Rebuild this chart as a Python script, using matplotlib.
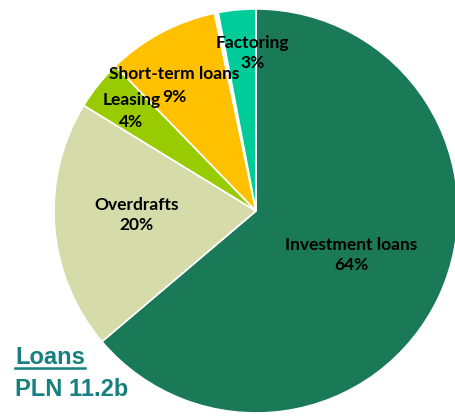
import matplotlib
matplotlib.use("Agg")
import numpy as np
import matplotlib.pyplot as plt
from matplotlib.lines import Line2D

# data
categories = ["Investment loans", "Overdrafts", "Leasing", "Short-term loans", "", "Factoring"]
shares = [64, 20, 4, 9, 0.3, 3]
pct_labels = ["64%", "20%", "4%", "9%", "", "3%"]
colors = ["#1a7a58", "#d6dbaa", "#99cc00", "#ffc000", "#ffffff", "#00cc99"]

# label placement: radius fraction and angle tweak (deg) relative to wedge middle
label_r = [0.52, 0.59, 0.79, 0.74, 0, 0.78]
label_dang = [0, -2.5, 0, 5, 0, -4]

fig = plt.figure(figsize=(4.56, 4.17), dpi=100)
ax = fig.add_axes([0.1184, 0.0096, 0.886, 0.969])

wedges, _ = ax.pie(shares, colors=colors, startangle=90, counterclock=False,
                   radius=1, wedgeprops=dict(edgecolor="white", linewidth=1.2))
ax.set_xlim(-1, 1)
ax.set_ylim(-1, 1)
ax.set_aspect("equal")

font = dict(family="Lato", weight="bold", size=12.5, color="black")
for w, name, pct, r, da in zip(wedges, categories, pct_labels, label_r, label_dang):
    if not name:
        continue
    ang = np.deg2rad((w.theta1 + w.theta2) / 2 + da)
    x, y = r * np.cos(ang), r * np.sin(ang)
    if name in ("Short-term loans", "Leasing"):
        ax.text(x, y + 0.055, name, ha="center", va="center", **font)
        ax.text(x, y - 0.055, pct, ha="center", va="center", **font)
    else:
        ax.text(x, y, name + "\n" + pct, ha="center", va="center",
                linespacing=1.3, **font)

# title block bottom-left
teal = "#17807f"
t1 = fig.text(15 / 456, 1 - 358 / 417, "Loans", ha="left", va="center",
              family="Liberation Sans", weight="bold", size=17, color=teal)
fig.text(15 / 456, 1 - 389 / 417, "PLN 11.2b", ha="left", va="center",
         family="Liberation Sans", weight="bold", size=17, color=teal)

fig.canvas.draw()
bb = t1.get_window_extent().transformed(fig.transFigure.inverted())
fig.add_artist(Line2D([bb.x0, bb.x1], [bb.y0 + 0.004, bb.y0 + 0.004],
                      transform=fig.transFigure, color=teal, linewidth=1.8))

fig.savefig("out.png", dpi=100)
